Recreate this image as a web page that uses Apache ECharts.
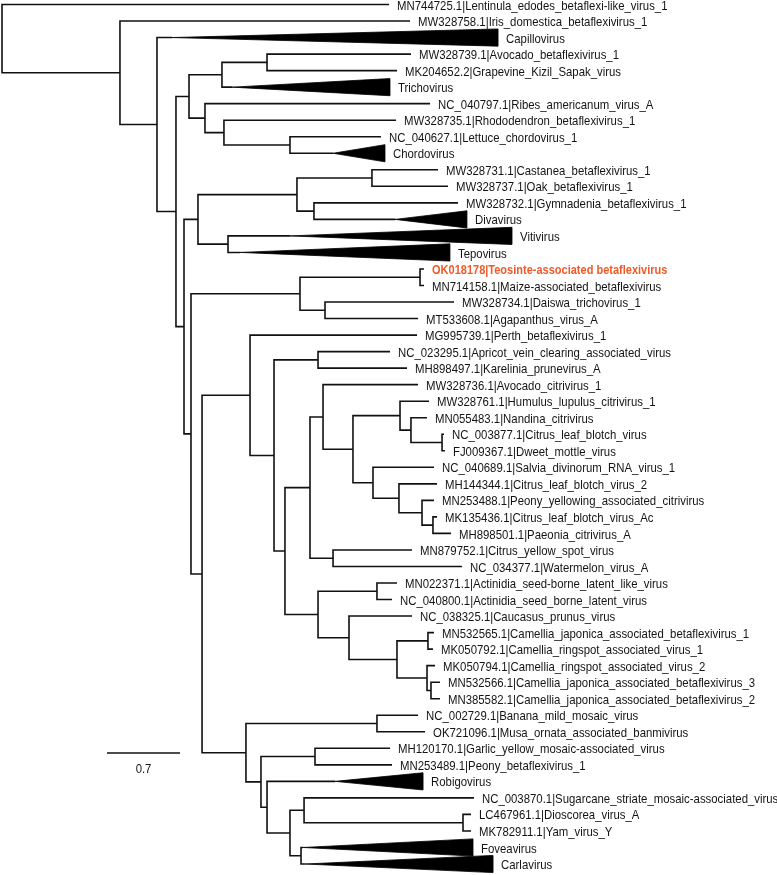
<!DOCTYPE html>
<html><head><meta charset="utf-8">
<script src="https://cdn.jsdelivr.net/npm/echarts@6/dist/echarts.min.js"></script>
<style>html,body{margin:0;padding:0;background:#fff}#c{width:777px;height:875px}</style>
</head><body><div id="c"></div>
<script>
// ---- leaves (top to bottom) ----
const leafLabels = [
 'MN744725.1|Lentinula_edodes_betaflexi-like_virus_1',
 'MW328758.1|Iris_domestica_betaflexivirus_1',
 'Capillovirus',
 'MW328739.1|Avocado_betaflexivirus_1',
 'MK204652.2|Grapevine_Kizil_Sapak_virus',
 'Trichovirus',
 'NC_040797.1|Ribes_americanum_virus_A',
 'MW328735.1|Rhododendron_betaflexivirus_1',
 'NC_040627.1|Lettuce_chordovirus_1',
 'Chordovirus',
 'MW328731.1|Castanea_betaflexivirus_1',
 'MW328737.1|Oak_betaflexivirus_1',
 'MW328732.1|Gymnadenia_betaflexivirus_1',
 'Divavirus',
 'Vitivirus',
 'Tepovirus',
 'OK018178|Teosinte-associated betaflexivirus',
 'MN714158.1|Maize-associated_betaflexivirus',
 'MW328734.1|Daiswa_trichovirus_1',
 'MT533608.1|Agapanthus_virus_A',
 'MG995739.1|Perth_betaflexivirus_1',
 'NC_023295.1|Apricot_vein_clearing_associated_virus',
 'MH898497.1|Karelinia_prunevirus_A',
 'MW328736.1|Avocado_citrivirus_1',
 'MW328761.1|Humulus_lupulus_citrivirus_1',
 'MN055483.1|Nandina_citrivirus',
 'NC_003877.1|Citrus_leaf_blotch_virus',
 'FJ009367.1|Dweet_mottle_virus',
 'NC_040689.1|Salvia_divinorum_RNA_virus_1',
 'MH144344.1|Citrus_leaf_blotch_virus_2',
 'MN253488.1|Peony_yellowing_associated_citrivirus',
 'MK135436.1|Citrus_leaf_blotch_virus_Ac',
 'MH898501.1|Paeonia_citrivirus_A',
 'MN879752.1|Citrus_yellow_spot_virus',
 'NC_034377.1|Watermelon_virus_A',
 'MN022371.1|Actinidia_seed-borne_latent_like_virus',
 'NC_040800.1|Actinidia_seed_borne_latent_virus',
 'NC_038325.1|Caucasus_prunus_virus',
 'MN532565.1|Camellia_japonica_associated_betaflexivirus_1',
 'MK050792.1|Camellia_ringspot_associated_virus_1',
 'MK050794.1|Camellia_ringspot_associated_virus_2',
 'MN532566.1|Camellia_japonica_associated_betaflexivirus_3',
 'MN385582.1|Camellia_japonica_associated_betaflexivirus_2',
 'NC_002729.1|Banana_mild_mosaic_virus',
 'OK721096.1|Musa_ornata_associated_banmivirus',
 'MH120170.1|Garlic_yellow_mosaic-associated_virus',
 'MN253489.1|Peony_betaflexivirus_1',
 'Robigovirus',
 'NC_003870.1|Sugarcane_striate_mosaic-associated_virus',
 'LC467961.1|Dioscorea_virus_A',
 'MK782911.1|Yam_virus_Y',
 'Foveavirus',
 'Carlavirus'
];
// distance from root to each tip (for collapsed clades: deepest tip of the clade)
const tipDepth = [
 3.711, 3.912, 4.756, 3.921, 3.787, 3.720, 4.104, 3.778, 3.634, 3.672,
 4.180, 4.276, 4.372, 4.458, 4.890, 4.295, 4.046, 4.046, 4.334, 3.989,
 3.979, 3.720, 3.883, 3.989, 4.094, 4.075, 4.238, 4.247, 4.142, 4.171,
 4.142, 4.171, 4.305, 3.931, 4.410, 3.787, 3.739, 3.931, 4.142, 4.132,
 4.152, 4.199, 4.199, 3.989, 4.056, 3.720, 3.739, 4.037, 4.525, 4.497,
 4.497, 4.516, 4.708
];
// collapsed clades: leaf index -> depth of clade node (triangle apex)
const collapsedLeaf  = [2, 5, 9, 13, 14, 15, 47, 51, 52];
const collapsedApex  = [1.630, 2.205, 3.174, 3.768, 2.761, 2.282, 3.193, 2.886, 2.905];
const highlightLeaf = 16;

// ---- internal nodes ----
const nodeNames = ['N0','N1','N2','N3','N4','N5','N6','N7','N8','N9','N12','N13','N14','N15','N16','N17',
 'N20','N21','N22','N23','N25','N26','N27','N28','N29','N30','N31','N32','N33','N34','N34b','N35','N36','N36b','N36c','N37',
 'N40','N41','N42','N43','N44','N45','N46','N50','N51','N52','N53','N54','N55','N56','N56b','N57'];
const nodeDepth = [0, 1.131, 1.486, 1.668, 1.793, 2.109, 2.541, 1.946, 2.128, 2.761, 1.745, 1.879, 2.828, 3.547, 2.991, 2.167,
 1.812, 2.857, 4.008, 3.097, 1.918, 2.378, 2.608, 3.030, 2.713, 2.953, 3.078, 3.365, 3.816, 3.921, 4.219, 3.557, 3.806, 4.027, 4.132, 3.174,
 3.030, 3.595, 3.327, 3.787, 4.084, 4.075, 4.113, 2.339, 3.595, 2.483, 3.001, 2.541, 2.761, 2.896, 4.420, 2.867];
const nodeChildren = [
 ['L0','N1'], ['L1','N2'], ['L2','N3'], ['N4','N12'], ['N5','N7'], ['N6','L5'], ['L3','L4'], ['L6','N8'], ['L7','N9'], ['L8','L9'],
 ['N13','N20'], ['N14','N17'], ['N15','N16'], ['L10','L11'], ['L12','L13'], ['L14','L15'],
 ['N21','N25'], ['N22','N23'], ['L16','L17'], ['L18','L19'], ['N26','N50'], ['L20','N27'], ['N28','N29'], ['L21','L22'], ['N30','N40'],
 ['N31','N37'], ['L23','N32'], ['N33','N35'], ['L24','N34'], ['L25','N34b'], ['L26','L27'], ['L28','N36'], ['L29','N36b'], ['L30','N36c'], ['L31','L32'], ['L33','L34'],
 ['N41','N42'], ['L35','L36'], ['L37','N43'], ['N44','N45'], ['L38','L39'], ['L40','N46'], ['L41','L42'],
 ['N51','N52'], ['L43','L44'], ['N53','N54'], ['L45','L46'], ['L47','N55'], ['N56','N57'], ['L48','N56b'], ['L49','L50'], ['L51','L52']
];
const scaleBarLength = 0.7;
const scaleBarText = '0.7';

// ---- build geometry from the data ----
const nodeIdx = {}; nodeNames.forEach((n,i)=>nodeIdx[n]=i);
const apexOf = {}; collapsedLeaf.forEach((l,i)=>apexOf[l]=collapsedApex[i]);
function yOf(ref){
  if(ref[0]==='L') return +ref.slice(1);
  const ch = nodeChildren[nodeIdx[ref]];
  return (yOf(ch[0]) + yOf(ch[ch.length-1]))/2;
}
function startX(ref){
  if(ref[0]==='N') return nodeDepth[nodeIdx[ref]];
  const i = +ref.slice(1);
  return (i in apexOf) ? apexOf[i] : tipDepth[i];
}
const bracketData = nodeNames.map((n,i)=>{
  const ch = nodeChildren[i];
  return [nodeDepth[i], yOf(ch[0]), startX(ch[0]), yOf(ch[1]), startX(ch[1])];
});
const triData = collapsedLeaf.map((l,i)=>[collapsedApex[i], l, tipDepth[l]]);
const labelData = leafLabels.map((t,i)=>[tipDepth[i], i]);

const FONT = '"Liberation Sans",Arial,sans-serif';
const rows = leafLabels.length - 1;
const chart = echarts.init(document.getElementById('c'), null, {renderer:'canvas'});
chart.setOption({
  animation:false,
  backgroundColor:'#fff',
  grid:{left:2, right:0, top:4.5, bottom:11},
  xAxis:{type:'value', min:0, max:7.4305, show:false},
  yAxis:{type:'value', min:0, max:rows, inverse:true, show:false},
  series:[
    {type:'custom', clip:false, data:bracketData, encode:{x:[0,2,4], y:[1,3]},
     renderItem:(p,api)=>{
       const d=api.value(0), yA=api.value(1), xA=api.value(2), yB=api.value(3), xB=api.value(4);
       return {type:'polyline', shape:{points:[api.coord([xA,yA]),api.coord([d,yA]),api.coord([d,yB]),api.coord([xB,yB])]},
         style:{stroke:'#111', lineWidth:1.6, fill:null, lineJoin:'miter'}};
     }},
    {type:'custom', clip:false, data:triData, encode:{x:[0,2], y:1},
     renderItem:(p,api)=>{
       const a=api.value(0), y=api.value(1), b=api.value(2), h=0.52;
       return {type:'polygon', shape:{points:[api.coord([a,y]),api.coord([b,y-h]),api.coord([b,y+h])]},
         style:{fill:'#000', stroke:'#000', lineWidth:0.8}};
     }},
    {type:'custom', clip:false, data:labelData, encode:{x:0, y:1},
     renderItem:(p,api)=>{
       const pt=api.coord([api.value(0), api.value(1)]);
       const hi = p.dataIndex===highlightLeaf;
       return {type:'text', x:pt[0]+8, y:pt[1]+1.5, scaleX: hi?0.847:0.875, scaleY:1,
         style:{text:leafLabels[p.dataIndex], fill: hi?'#f05a28':'#141414',
           font:(hi?'bold ':'')+'13px '+FONT, align:'left', verticalAlign:'middle'}};
     }},
    {type:'custom', clip:false, data:[[1.007, 45.28]], encode:{x:0,y:1},
     renderItem:(p,api)=>{
       const s=api.coord([api.value(0), api.value(1)]);
       const e=api.coord([api.value(0)+scaleBarLength, api.value(1)]);
       return {type:'group', children:[
         {type:'line', shape:{x1:s[0],y1:s[1],x2:e[0],y2:e[1]}, style:{stroke:'#111', lineWidth:1.6}},
         {type:'text', x:(s[0]+e[0])/2, y:s[1]+16, scaleX:0.875,
          style:{text:scaleBarText, fill:'#141414', font:'13px '+FONT, align:'center', verticalAlign:'middle'}}
       ]};
     }}
  ]
});
</script></body></html>
